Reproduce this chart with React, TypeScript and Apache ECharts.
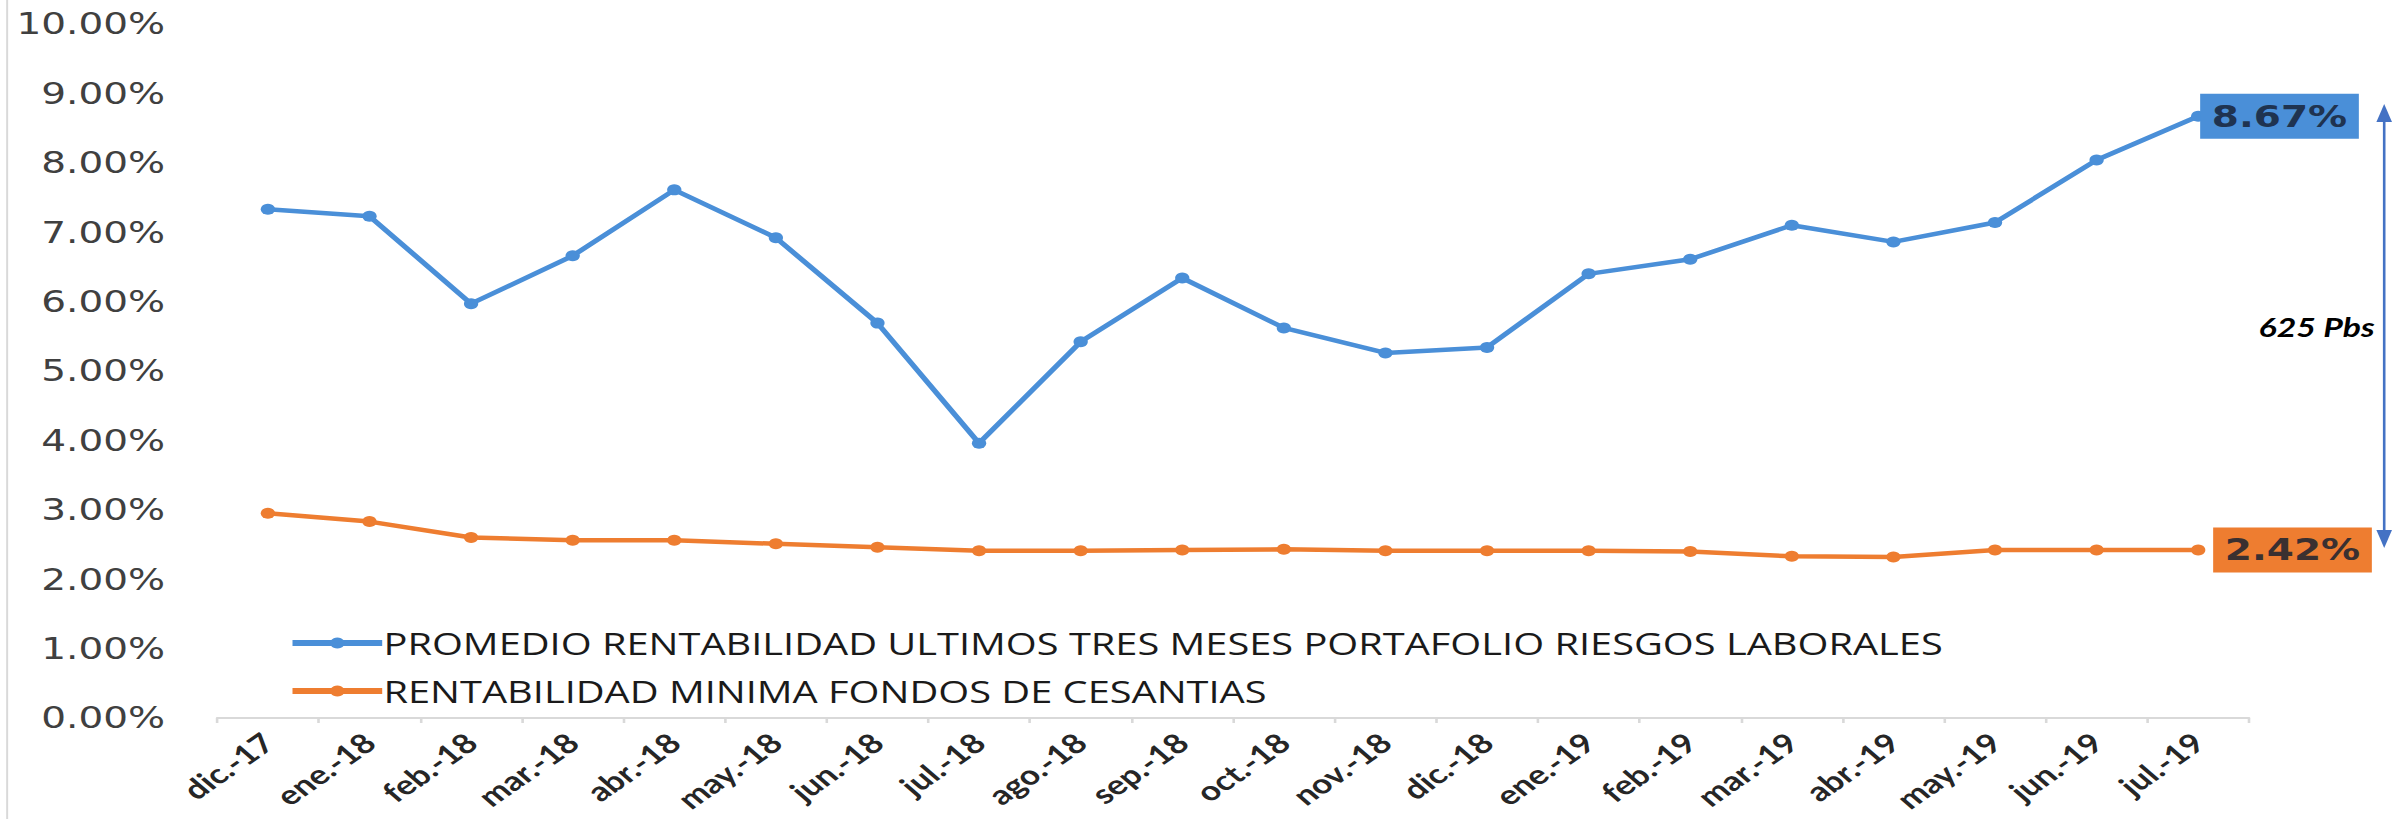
import React, { useEffect, useRef } from "react";
import * as echarts from "echarts";

const categories = [
  "dic.-17", "ene.-18", "feb.-18", "mar.-18", "abr.-18", "may.-18", "jun.-18",
  "jul.-18", "ago.-18", "sep.-18", "oct.-18", "nov.-18", "dic.-18", "ene.-19",
  "feb.-19", "mar.-19", "abr.-19", "may.-19", "jun.-19", "jul.-19",
];

const promedioRiesgos = [
  7.33, 7.23, 5.97, 6.66, 7.61, 6.92, 5.69, 3.96, 5.42, 6.34,
  5.62, 5.26, 5.34, 6.40, 6.61, 7.10, 6.86, 7.14, 8.04, 8.67,
];

const minimaCesantias = [
  2.95, 2.83, 2.60, 2.56, 2.56, 2.51, 2.46, 2.41, 2.41, 2.42,
  2.43, 2.41, 2.41, 2.41, 2.40, 2.33, 2.32, 2.42, 2.42, 2.42,
];

const seriesNames = [
  "PROMEDIO RENTABILIDAD ULTIMOS TRES MESES PORTAFOLIO RIESGOS LABORALES",
  "RENTABILIDAD MINIMA FONDOS DE CESANTIAS",
];

const annotationText = "625 Pbs";

const BLUE = "#4a8fd8";
const ORANGE = "#ee7d30";

// the reference picture is stretched horizontally; the chart is drawn narrower and stretched
const STRETCH = 1.3;
const FULL_W = 2397;
const FULL_H = 819;
const W = Math.round(FULL_W / STRETCH);

function withEndLabel(values: number[], label: any) {
  return values.map((v, i) =>
    i === values.length - 1 ? { value: v, label: { show: true, ...label } } : v
  );
}

export default function App() {
  const ref = useRef<HTMLDivElement>(null);

  useEffect(() => {
    document.body.style.margin = "0";
    if (!ref.current) return;
    const chart = echarts.init(ref.current, undefined, { renderer: "svg" });

    const labelBase = {
      fontFamily: "DejaVu Sans",
      fontWeight: "bold",
      fontSize: 30,
      lineHeight: 33,
      padding: [6, 9, 6, 9],
      formatter: (p: any) => `${Number(p.value).toFixed(2)}%`,
    };

    chart.setOption({
      animation: false,
      backgroundColor: "#ffffff",
      grid: { left: 167, right: 114, top: 24, bottom: 101 },
      legend: {
        orient: "vertical",
        left: 217,
        top: 622,
        itemGap: 16,
        itemWidth: 69,
        itemHeight: 14,
        lineStyle: { width: 6 },
        textStyle: {
          fontFamily: "Open Sans",
          fontSize: 30.6,
          lineHeight: 32,
          color: "#1a1a1a",
          padding: [0, 0, 0, -4],
        },
        data: seriesNames,
      },
      xAxis: {
        type: "category",
        data: categories,
        boundaryGap: true,
        axisLine: { show: true, lineStyle: { color: "#d9d9d9", width: 2 } },
        axisTick: { show: true, length: 5, lineStyle: { color: "#d9d9d9", width: 2 } },
        axisLabel: {
          rotate: 42,
          margin: 20,
          interval: 0,
          fontFamily: "Lato",
          fontWeight: "bold",
          fontSize: 27,
          color: "#262626",
        },
      },
      yAxis: {
        type: "value",
        min: 0,
        max: 10,
        interval: 1,
        splitLine: { show: false },
        axisLine: { show: false },
        axisTick: { show: false },
        axisLabel: {
          margin: 40,
          fontFamily: "DejaVu Sans",
          fontSize: 30,
          color: "#404040",
          formatter: (v: number) => `${v.toFixed(2)}%`,
        },
      },
      series: [
        {
          name: seriesNames[0],
          type: "line",
          data: withEndLabel(promedioRiesgos, {
            ...labelBase,
            position: "right",
            distance: -4,
            backgroundColor: BLUE,
            color: "#1f3350",
          }),
          symbol: "circle",
          symbolSize: 11,
          lineStyle: { color: BLUE, width: 4.5 },
          itemStyle: { color: BLUE },
          z: 3,
        },
        {
          name: seriesNames[1],
          type: "line",
          data: withEndLabel(minimaCesantias, {
            ...labelBase,
            position: "right",
            distance: 6,
            backgroundColor: ORANGE,
            color: "#3a3030",
          }),
          symbol: "circle",
          symbolSize: 11,
          lineStyle: { color: ORANGE, width: 4.5 },
          itemStyle: { color: ORANGE },
          z: 2,
        },
      ],
      graphic: [
        {
          type: "line",
          shape: { x1: 5.5, y1: 0, x2: 5.5, y2: FULL_H },
          style: { stroke: "#d9d9d9", lineWidth: 1.5 },
        },
        {
          type: "line",
          shape: { x1: 1834, y1: 118, x2: 1834, y2: 534 },
          style: { stroke: "#4472c4", lineWidth: 2 },
        },
        {
          type: "polygon",
          shape: { points: [[1834, 104], [1828, 122], [1840, 122]] },
          style: { fill: "#4472c4" },
        },
        {
          type: "polygon",
          shape: { points: [[1834, 548], [1828, 530], [1840, 530]] },
          style: { fill: "#4472c4" },
        },
        {
          type: "text",
          x: 1782,
          y: 327,
          style: {
            text: annotationText,
            fontFamily: "Lato",
            fontWeight: "bold",
            fontStyle: "italic",
            fontSize: 26,
            fill: "#000000",
            align: "center",
            verticalAlign: "middle",
          },
        },
      ],
    });

    return () => chart.dispose();
  }, []);

  return (
    <div style={{ width: FULL_W, height: FULL_H, overflow: "hidden" }}>
      <div
        ref={ref}
        style={{
          width: W,
          height: FULL_H,
          transform: `scaleX(${STRETCH})`,
          transformOrigin: "0 0",
        }}
      />
    </div>
  );
}
